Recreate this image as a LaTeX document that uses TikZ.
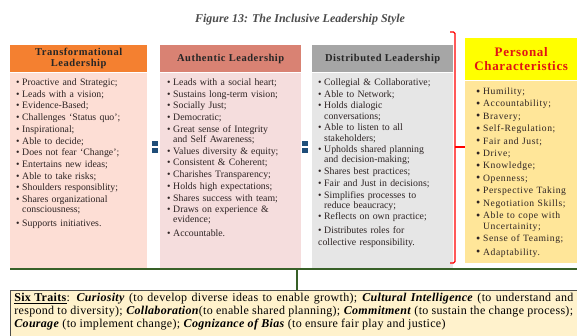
\documentclass[tikz,border=0pt]{standalone}
\usepackage{fontspec}
\setmainfont{Liberation Serif}
\usetikzlibrary{positioning, calc}

\definecolor{tlhead}{RGB}{244,128,48}
\definecolor{tlbody}{RGB}{253,222,213}
\definecolor{alhead}{RGB}{217,130,115}
\definecolor{albody}{RGB}{245,221,221}
\definecolor{dlhead}{RGB}{166,166,166}
\definecolor{dlbody}{RGB}{230,230,230}
\definecolor{pchead}{RGB}{255,255,0}
\definecolor{pctext}{RGB}{225,20,20}
\definecolor{pcbody}{RGB}{255,230,153}
\definecolor{traitfill}{RGB}{255,242,204}
\definecolor{linkgreen}{RGB}{56,96,40}
\definecolor{eqblue}{RGB}{31,78,121}
\definecolor{inktext}{RGB}{45,35,35}

\newcommand{\listfont}{\fontsize{9.8}{10.2}\selectfont\setlength{\parskip}{1.5pt}}
\newcommand{\pcfont}{\fontsize{9.6}{10.6}\selectfont\addfontfeatures{LetterSpace=6}\setlength{\parskip}{1.8pt}}
\newcommand{\firstbul}{\noindent\hangindent=6pt\hangafter=1\makebox[6pt][l]{\textbullet}}
\newcommand{\bul}{\par\firstbul}
\newcommand{\firstpcbul}{\noindent\hangindent=7pt\hangafter=1\makebox[7pt][l]{\raisebox{-0.5pt}{\large\textbullet}}}
\newcommand{\pcbul}{\par\firstpcbul}
\newcommand{\trait}[1]{\textbf{\textit{#1}}}

\begin{document}
\begin{tikzpicture}[
    x=1pt, y=-1pt,
    head/.style={
        rectangle, anchor=north west, inner sep=0pt,
        minimum height=27pt, align=center, text=black!85,
        font=\fontsize{10.5}{11}\selectfont\bfseries\addfontfeatures{LetterSpace=5}
    },
    bodybox/.style={
        rectangle, anchor=north, inner ysep=0pt,
        align=left, text=inktext,
        text height=13pt, text depth=183pt
    },
    eqbar/.style={
        rectangle, fill=eqblue, inner sep=0pt,
        minimum width=6pt, minimum height=5pt
    },
    greenline/.style={draw=linkgreen, line width=1.8pt},
    bracket/.style={draw=red, line width=1.1pt, rounded corners=1.5pt},
    caption/.style={font=\fontsize{12}{13}\selectfont\bfseries\itshape, text=black!70}
]
\useasboundingbox (0,0) rectangle (577,336);

% === Title ===
\node[caption] (title) at (300,20) {Figure 13: The Inclusive Leadership Style};

% === Three leadership styles ===

% Transformational
\node[head, fill=tlhead, minimum width=137pt] (tlhead) at (10,45)
    {Transformational\\Leadership};
\node[bodybox, fill=tlbody, inner xsep=6pt, text width=125pt,
      below=0pt of tlhead] (tlbody)
    {\listfont
     \firstbul Proactive and Strategic;
     \bul Leads with a vision;
     \bul Evidence-Based;
     \bul Challenges `Status quo';
     \bul Inspirational;
     \bul Able to decide;
     \bul Does not fear `Change';
     \bul Entertains new ideas;
     \bul Able to take risks;
     \bul Shoulders responsiblity;
     \bul Shares organizational\newline consciousness;
     \bul Supports initiatives.};

% Authentic
\node[head, fill=alhead, minimum width=141pt] (alhead) at (160,45)
    {Authentic Leadership};
\node[bodybox, fill=albody, inner xsep=7pt, text width=127pt,
      below=0pt of alhead] (albody)
    {\listfont
     \firstbul Leads with a social heart;
     \bul Sustains long-term vision;
     \bul Socially Just;
     \bul Democratic;
     \bul Great sense of Integrity\newline and Self Awareness;
     \bul Values diversity \& equity;
     \bul Consistent \& Coherent;
     \bul Charishes Transparency;
     \bul Holds high expectations;
     \bul Shares success with team;
     \bul Draws on experience \&\newline evidence;
     \bul Accountable.};

% Distributed
\node[head, fill=dlhead, minimum width=141pt] (dlhead) at (312,45)
    {Distributed Leadership};
\node[bodybox, fill=dlbody, inner xsep=6pt, text width=129pt,
      below=0pt of dlhead] (dlbody)
    {\listfont
     \firstbul Collegial \& Collaborative;
     \bul Able to Network;
     \bul Holds dialogic\newline conversations;
     \bul Able to listen to all\newline stakeholders;
     \bul Upholds shared planning\newline and decision-making;
     \bul Shares best practices;
     \bul Fair and Just in decisions;
     \bul Simplifies processes to\newline reduce beaucracy;
     \bul Reflects on own practice;
     \bul Distributes roles for\newline collective responsibility.};

% Equal signs between the styles
\foreach \ex/\nm in {154.5/eqa, 305/eqb} {
    \node[eqbar] (\nm top) at (\ex,143.3) {};
    \node[eqbar] (\nm bot) at (\ex,150.2) {};
}

% === Personal characteristics ===
\node[head, fill=pchead, text=pctext, minimum width=112pt, minimum height=42pt,
      font=\fontsize{13}{14}\selectfont\bfseries\addfontfeatures{LetterSpace=5}] (pchead) at (465,38)
    {Personal\\Characteristics};
\node[bodybox, fill=pcbody, inner xsep=11pt, text width=90pt,
      text height=14pt, text depth=168pt, below=0pt of pchead] (pcbody)
    {\pcfont
     \firstpcbul Humility;
     \pcbul Accountability;
     \pcbul Bravery;
     \pcbul Self-Regulation;
     \pcbul Fair and Just;
     \pcbul Drive;
     \pcbul Knowledge;
     \pcbul Openness;
     \pcbul Perspective Taking
     \pcbul Negotiation Skills;
     \pcbul Able to cope with\newline Uncertainity;
     \pcbul Sense of Teaming;
     \pcbul Adaptability.};

% Red bracket joining the styles to the characteristics
\coordinate (brtop) at (455,32);
\coordinate (brbot) at (455,263);
\coordinate (brmid) at (455,147);
\draw[bracket] ([xshift=-5pt]brtop) -- (brtop) -- (brbot) -- ([xshift=-5pt]brbot);
\draw[bracket] (brmid) -- (brmid -| pcbody.west);

% === Six traits ===
\node[rectangle, anchor=north west, fill=traitfill, draw=black!70, line width=0.8pt,
      inner xsep=4pt, inner ysep=0pt, text width=559pt,
      text height=11pt, text depth=35pt, align=justify, text=black,
      font=\fontsize{12}{13}\selectfont\addfontfeatures{LetterSpace=2.5}] (traits) at (10,290)
    {\underline{\textbf{Six Traits}}: \trait{Curiosity} (to develop diverse ideas to enable growth); \trait{Cultural Intelligence} (to understand and\linebreak
     respond to diversity); \trait{Collaboration}(to enable shared planning); \trait{Commitment} (to sustain the change process);\linebreak
     \trait{Courage} (to implement change); \trait{Cognizance of Bias} (to ensure fair play and justice)};

% Green link from all boxes down to the traits
\coordinate (stem) at (297,268);
\draw[greenline] (tlbody.south west) -- (tlbody.south west -| pcbody.east);
\draw[greenline] (stem) -- (stem |- traits.north);

\end{tikzpicture}
\end{document}
